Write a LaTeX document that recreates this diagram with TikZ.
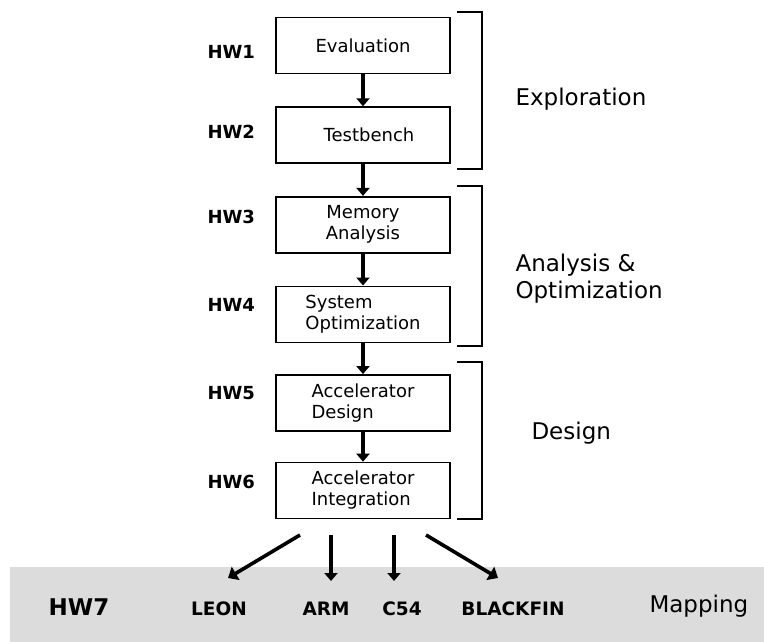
\documentclass[tikz,border=0pt]{standalone}
\usepackage{fontspec}
\setmainfont{DejaVu Sans}
\usepackage{xcolor}
\usetikzlibrary{arrows.meta,positioning,calc}

\definecolor{bandgray}{HTML}{DCDCDC}

\begin{document}
\begin{tikzpicture}[
                x=1pt, y=-1pt,
                font=\fontsize{18}{21}\selectfont,
                hwbox/.style={draw, line width=1.6pt, align=center, minimum width=174pt, minimum height=56pt, inner sep=0pt},
                hwlabel/.style={font=\fontsize{18}{20}\selectfont\bfseries, anchor=west},
                phase/.style={font=\fontsize{23}{27}\selectfont, align=left, anchor=west},
                target/.style={font=\fontsize{18.5}{20}\selectfont\bfseries},
                bus/.style={-{Triangle[length=8pt, width=13pt]}, line width=3.6pt},
                brack/.style={line width=1.8pt}
            ]
            \useasboundingbox (0,0) rectangle (764,642);
            % gray band at the bottom
            \node[fill=bandgray, minimum width=754pt, minimum height=75pt, inner sep=0pt, anchor=north west] (band) at (10,567) {};

            \node[hwbox] (eval) at (363,45.5) {Evaluation};
            \node[hwbox, below=32pt of eval] (tb) {\hspace*{12pt}Testbench};
            \node[hwbox, below=32pt of tb] (mem) {Memory\\Analysis};
            \node[hwbox, below=32pt of mem, align=left] (sys) {System\\Optimization};
            \node[hwbox, below=31pt of sys, align=left] (accd) {Accelerator\\Design};
            \node[hwbox, below=30pt of accd, align=left] (acci) {Accelerator\\Integration};

            \node[hwlabel] (hw1) at (204,52) {HW1};
            \node[hwlabel] (hw2) at (204,132) {HW2};
            \node[hwlabel] (hw3) at (204,217) {HW3};
            \node[hwlabel] (hw4) at (204,305) {HW4};
            \node[hwlabel] (hw5) at (204,393) {HW5};
            \node[hwlabel] (hw6) at (204,482) {HW6};

            \draw[bus] (eval) -- (tb);
            \draw[bus] (tb) -- (mem);
            \draw[bus] (mem) -- (sys);
            \draw[bus] (sys) -- (accd);
            \draw[bus] (accd) -- (acci);

            % phase brackets
            \draw[brack] (457,12) -- (482,12) -- (482,169) -- (457,169);
            \draw[brack] (457,186) -- (482,186) -- (482,346) -- (457,346);
            \draw[brack] (457,362) -- (482,362) -- (482,519) -- (457,519);
            \node[phase] (explo) at (512,99) {Exploration};
            \node[phase] (anopt) at (512,279) {Analysis \&\\Optimization};
            \node[phase] (design) at (528,433) {Design};

            % mapping targets
            \node[target, font=\fontsize{23}{25}\selectfont\bfseries] (hw7) at (79,607) {HW7};
            \node[target] (leon) at (219,609) {LEON};
            \node[target] (arm) at (326,609) {ARM};
            \node[target] (c54) at (402,609) {C54};
            \node[target] (bfin) at (513,609) {BLACKFIN};
            \node[phase] (mapping) at (646,606) {Mapping};

            \coordinate (s1) at (300,535);
            \coordinate (s2) at (331,535);
            \coordinate (s3) at (394,535);
            \coordinate (s4) at (426,535);
            \coordinate (t1) at (228,578);
            \coordinate (t2) at (331,581);
            \coordinate (t3) at (394,581);
            \coordinate (t4) at (498,578);
            \draw[bus, -{Triangle[length=9pt, width=15pt]}] (s1) -- (t1);
            \draw[bus] (s2) -- (t2);
            \draw[bus] (s3) -- (t3);
            \draw[bus, -{Triangle[length=9pt, width=15pt]}] (s4) -- (t4);
        \end{tikzpicture}
\end{document}
